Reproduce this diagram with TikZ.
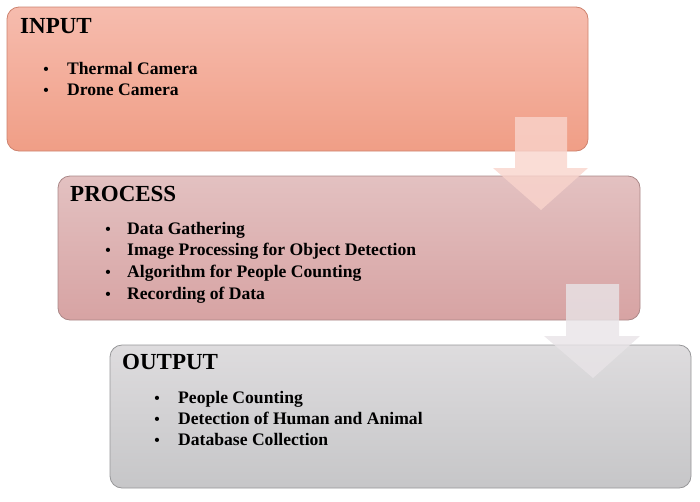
\documentclass[tikz,border=0pt]{standalone}
\usepackage{fontspec}
\setmainfont{Liberation Serif}
\usetikzlibrary{positioning}
\definecolor{inTop}{RGB}{246,188,174}
\definecolor{inBot}{RGB}{240,158,134}
\definecolor{inLine}{RGB}{205,130,110}
\definecolor{prTop}{RGB}{227,193,193}
\definecolor{prBot}{RGB}{215,163,163}
\definecolor{prLine}{RGB}{170,135,135}
\definecolor{ouTop}{RGB}{222,220,222}
\definecolor{ouBot}{RGB}{198,198,200}
\definecolor{ouLine}{RGB}{150,150,152}
\definecolor{arA}{RGB}{249,212,204}
\definecolor{arB}{RGB}{232,228,231}
\tikzset{
  stagebox/.style={rounded corners=12pt, line width=0.8pt},
  headtxt/.style={anchor=base west, inner sep=0pt, font=\fontsize{23}{26}\selectfont\bfseries},
  itemtxt/.style={anchor=base west, inner sep=0pt, font=\fontsize{17.6}{20}\selectfont\bfseries},
  bullettxt/.style={anchor=base, inner sep=0pt, font=\fontsize{15.5}{18}\selectfont\bfseries},
  blockarrow/.style={draw=none, fill opacity=0.8}
}
\begin{document}
\begin{tikzpicture}[x=1pt,y=-1pt]
\useasboundingbox (0,0) rectangle (700,501);
% boxes
\path[stagebox, draw=inLine, top color=inTop, bottom color=inBot] (7,7) rectangle (588,151);
\path[stagebox, draw=prLine, top color=prTop, bottom color=prBot] (58,176) rectangle (640,320);
\path[stagebox, draw=ouLine, top color=ouTop, bottom color=ouBot] (110,345) rectangle (691,488);
% arrows
\fill[blockarrow, fill=arA] (515,117) -- (567,117) -- (567,168) -- (588,168) -- (541,210) -- (493,168) -- (515,168) -- cycle;
\fill[blockarrow, fill=arB] (566,284) -- (619,284) -- (619,336) -- (640,336) -- (593,378) -- (544,336) -- (566,336) -- cycle;
% input text
\node[headtxt] (inH) at (20,33) {INPUT};
\node[bullettxt] (inb1) at (46,74) {•};
\node[itemtxt] (in1) at (67,74) {Thermal Camera};
\node[bullettxt] (inb2) at (46,95) {•};
\node[itemtxt] (in2) at (67,95) {Drone Camera};
% process text
\node[headtxt] (prH) at (70,201) {PROCESS};
\node[bullettxt] (prb1) at (108,234) {•};
\node[itemtxt] (pr1) at (127,234) {Data Gathering};
\node[bullettxt] (prb2) at (108,255.7) {•};
\node[itemtxt] (pr2) at (127,255.7) {Image Processing for Object Detection};
\node[bullettxt] (prb3) at (108,277.4) {•};
\node[itemtxt] (pr3) at (127,277.4) {Algorithm for People Counting};
\node[bullettxt] (prb4) at (108,299) {•};
\node[itemtxt] (pr4) at (127,299) {Recording of Data};
% output text
\node[headtxt] (ouH) at (122,369) {OUTPUT};
\node[bullettxt] (oub1) at (157,403) {•};
\node[itemtxt] (ou1) at (178,403) {People Counting};
\node[bullettxt] (oub2) at (157,424) {•};
\node[itemtxt] (ou2) at (178,424) {Detection of Human and Animal};
\node[bullettxt] (oub3) at (157,445) {•};
\node[itemtxt] (ou3) at (178,445) {Database Collection};
\end{tikzpicture}
\end{document}
